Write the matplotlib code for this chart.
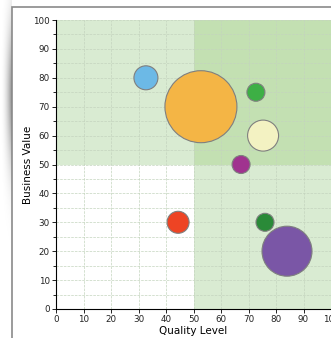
#!/usr/bin/env python3
"""Bubble chart: business value vs quality level"""
import matplotlib
matplotlib.use('Agg')
import matplotlib.pyplot as plt
import numpy as np
from matplotlib.patches import Rectangle

# data
quality = [32.7, 52.7, 72.7, 75.3, 67.3, 44.4, 76.0, 84.0]
value = [80, 70, 75, 60, 50, 30, 30, 20]
bubble_size = [12, 36, 9, 15.5, 9, 11, 9, 25]   # relative bubble radius
colors = ['#6cb9e6', '#f4b545', '#3daf45', '#f3f2c2', '#a0338f', '#ee4424', '#2a8a38', '#7a56a6']
x_ticks = list(range(0, 101, 10))
y_ticks = list(range(0, 101, 10))

fig = plt.figure(figsize=(3.31, 3.38), dpi=100)

# page shadow + frame behind the chart
bg = fig.add_axes([0, 0, 1, 1])
bg.set_xlim(0, 331)
bg.set_ylim(338, 0)
bg.axis('off')
hx = np.linspace(0, 1, 40) ** 2
vy = np.exp(-((np.linspace(0, 338, 200) - 95) / 70) ** 2)
shade = vy[:, None] * hx[None, :] * 0.45
rgba = np.zeros((200, 40, 4))
rgba[..., 3] = shade
bg.imshow(rgba, extent=[0, 12, 338, 0], aspect='auto', interpolation='bilinear')
bg.add_patch(Rectangle((11.5, 7), 330, 340, facecolor='white', edgecolor='#8a8a8a', lw=1.2))

ax = fig.add_axes([56 / 331, 29 / 338, 275 / 331, 289 / 338])
ax.set_xlim(0, 100)
ax.set_ylim(0, 100)

# quadrant shading
ax.add_patch(Rectangle((0, 50), 50, 50, facecolor='#d9ebd2', edgecolor='none', zorder=0))
ax.add_patch(Rectangle((50, 50), 50, 50, facecolor='#c3e0b2', edgecolor='none', zorder=0))
ax.add_patch(Rectangle((50, 0), 50, 50, facecolor='#d9ebd2', edgecolor='none', zorder=0))

ax.set_xticks(x_ticks)
ax.set_yticks(y_ticks)
ax.set_yticks(list(range(5, 100, 10)), minor=True)
ax.grid(True, which='both', linestyle='--', linewidth=0.5, color='#c4d4be', zorder=1)
ax.set_axisbelow(True)

# radius in px -> marker area in pt^2
s = [(2 * r * 72 / 100) ** 2 for r in bubble_size]
ax.scatter(quality, value, s=s, c=colors, edgecolors='#7f7f7f', linewidths=0.8,
           zorder=3, clip_on=False)

for side in ['top', 'right']:
    ax.spines[side].set_visible(False)
ax.tick_params(labelsize=6.3, length=3, width=0.7, pad=1.5, colors='#222222')
ax.tick_params(which='minor', length=2, width=0.6)
ax.set_xlabel('Quality Level', fontsize=7.5, labelpad=1)
ax.set_ylabel('Business Value', fontsize=7.5, labelpad=0)

plt.savefig('out.png', dpi=100)
plt.close()
